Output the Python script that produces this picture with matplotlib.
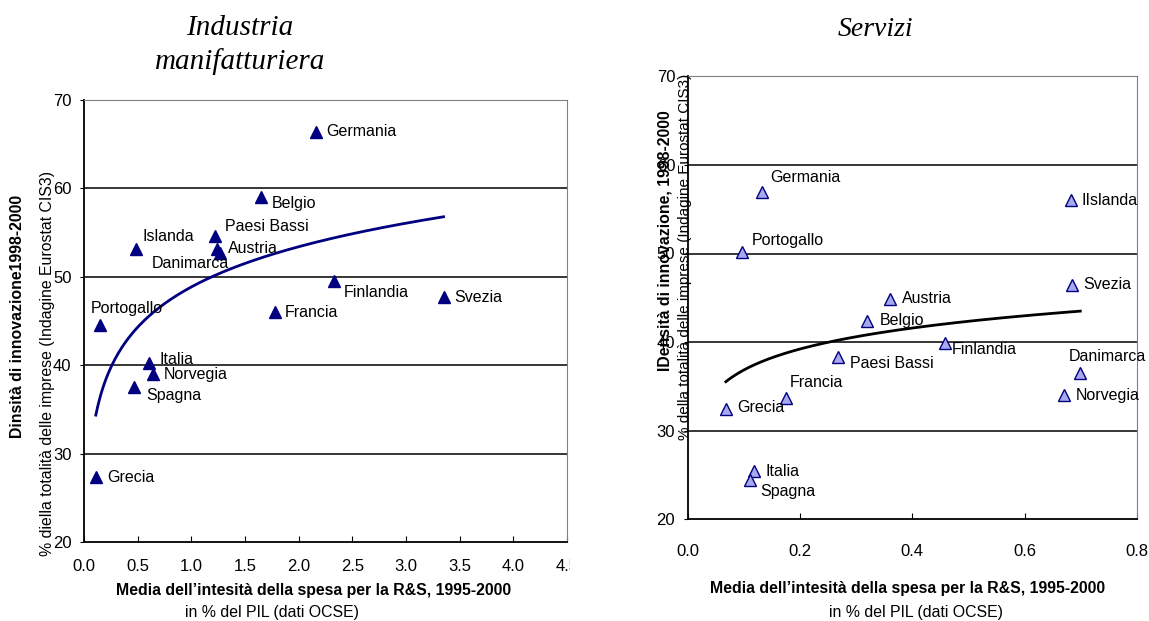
import numpy as np
import matplotlib
matplotlib.use("Agg")
import matplotlib.pyplot as plt
from matplotlib.transforms import Bbox

plt.rcParams["font.family"] = ["Liberation Sans", "DejaVu Sans"]

# Industria manifatturiera
man_paesi = ["Germania", "Belgio", "Paesi Bassi", "Austria", "Danimarca", "Islanda", "Portogallo",
             "Francia", "Finlandia", "Svezia", "Italia", "Norvegia", "Spagna", "Grecia"]
man_rs = [2.16, 1.645, 1.22, 1.24, 1.27, 0.48, 0.15, 1.78, 2.33, 3.35, 0.61, 0.64, 0.47, 0.11]
man_inn = [66.4, 59.0, 54.6, 53.2, 52.7, 53.2, 44.6, 46.0, 49.5, 47.7, 40.2, 39.0, 37.5, 27.3]
# label offsets in pixels (dx, dy, ha)
man_off = [(10, 0, "left"), (11, -6, "left"), (10, 10, "left"), (11, 0, "left"), (9, -11, "right"),
           (7, 12, "left"), (-9, 16, "left"), (10, 0, "left"), (10, -11, "left"), (11, 0, "left"),
           (10, 4, "left"), (11, 0, "left"), (12, -8, "left"), (11, 0, "left")]

# Servizi
ser_paesi = ["Germania", "Portogallo", "Austria", "Belgio", "Paesi Bassi", "Finlandia", "IIslanda",
             "Svezia", "Danimarca", "Norvegia", "Grecia", "Francia", "Italia", "Spagna"]
ser_rs = [0.132, 0.097, 0.361, 0.320, 0.268, 0.458, 0.682, 0.684, 0.699, 0.670, 0.068, 0.175, 0.118, 0.111]
ser_inn = [56.9, 50.2, 44.9, 42.4, 38.3, 39.9, 56.0, 46.5, 36.5, 34.0, 32.4, 33.7, 25.4, 24.4]
ser_off = [(8, 15, "left"), (10, 11, "left"), (12, 0, "left"), (12, 0, "left"), (12, -6, "left"),
           (7, -7, "left"), (11, 0, "left"), (11, 0, "left"), (-12, 17, "left"), (12, 0, "left"),
           (11, 2, "left"), (4, 15, "left"), (12, 0, "left"), (10, -11, "left")]

W, H = 1149, 621
fig = plt.figure(figsize=(W / 100, H / 100), dpi=100)


def px(x, y):
    return x / W, 1 - y / H


def log_trend(x, y):
    x = np.array(x)
    b, a = np.polyfit(np.log(x), np.array(y), 1)
    xs = np.linspace(x.min(), x.max(), 200)
    return xs, a + b * np.log(xs)


def style(ax):
    ax.set_ylim(20, 70)
    ax.set_yticks([20, 30, 40, 50, 60, 70])
    for v in [30, 40, 50, 60]:
        ax.axhline(v, color="black", lw=1.1, zorder=1)
    ax.spines["top"].set_color("#808080")
    ax.spines["right"].set_color("#808080")
    ax.spines["left"].set_linewidth(1.3)
    ax.spines["bottom"].set_linewidth(1.3)
    ax.tick_params(axis="x", direction="in", length=4, labelsize=12)
    ax.tick_params(axis="y", direction="out", length=3, labelsize=12, pad=6)


# --- left chart
ax1 = fig.add_axes([84 / W, 1 - 542 / H, 483 / W, 442 / H])
style(ax1)
ax1.set_xlim(0, 4.5)
ax1.set_xticks(np.arange(0, 4.51, 0.5))
ax1.set_xticklabels(["%.1f" % v for v in np.arange(0, 4.51, 0.5)])
ax1.tick_params(axis="x", pad=12)
tx, ty = log_trend(man_rs, man_inn)
ax1.plot(tx, ty, color="#000080", lw=2, zorder=2)
ax1.plot(man_rs, man_inn, "^", color="#000080", ms=8, ls="none", zorder=3)
for name, xv, yv, (dx, dy, ha) in zip(man_paesi, man_rs, man_inn, man_off):
    ax1.annotate(name, (xv, yv), xytext=(dx, dy), textcoords="offset pixels",
                 ha=ha, va="center", fontsize=11.5)
for lab in ax1.get_xticklabels():
    lab.set_clip_on(True)
    lab.set_clip_box(Bbox.from_extents(0, 0, 570, H))

# --- right chart
ax2 = fig.add_axes([687.7 / W, 1 - 519.3 / H, 449.3 / W, 443 / H])
style(ax2)
ax2.set_xlim(0, 0.8)
ax2.set_xticks([0.0, 0.2, 0.4, 0.6, 0.8])
ax2.set_xticklabels(["0.0", "0.2", "0.4", "0.6", "0.8"])
ax2.tick_params(axis="x", pad=18)
tx, ty = log_trend(ser_rs, ser_inn)
ax2.plot(tx, ty, color="black", lw=2, zorder=2)
ax2.plot(ser_rs, ser_inn, "^", mfc="#a8a8ee", mec="#000080", mew=1, ms=8, ls="none", zorder=3)
for name, xv, yv, (dx, dy, ha) in zip(ser_paesi, ser_rs, ser_inn, ser_off):
    ax2.annotate(name, (xv, yv), xytext=(dx, dy), textcoords="offset pixels",
                 ha=ha, va="center", fontsize=11.5, annotation_clip=False)

# titles
fig.text(*px(240, 28), "Industria", ha="center", va="center", fontsize=21,
         family="Liberation Serif", style="italic")
fig.text(*px(240, 62), "manifatturiera", ha="center", va="center", fontsize=21,
         family="Liberation Serif", style="italic")
fig.text(*px(875, 30), "Servizi", ha="center", va="center", fontsize=20,
         family="Liberation Serif", style="italic")

# axis titles
fs = 11.4
fig.text(*px(18, 316), "Dinsità di innovazione1998-2000", rotation=90, ha="center", va="center",
         fontsize=fs, fontweight="bold")
fig.text(*px(48, 363), "% diella totalità delle imprese (Indagine Eurostat CIS3)", rotation=90,
         ha="center", va="center", fontsize=fs)
fig.text(*px(314, 590), "Media dell’intesità della spesa per la R&S, 1995-2000", ha="center",
         va="center", fontsize=fs, fontweight="bold")
fig.text(*px(272, 613), "in % del PIL (dati OCSE)", ha="center", va="center", fontsize=fs)

fig.text(*px(665, 241), "IDensità di innovazione, 1998-2000", rotation=90, ha="center", va="center",
         fontsize=fs, fontweight="bold")
fig.text(*px(685, 257), "% della totalità delle imprese (Indagine Eurostat CIS3)", rotation=90,
         ha="center", va="center", fontsize=11)
fig.text(*px(908, 588), "Media dell’intesità della spesa per la R&S, 1995-2000", ha="center",
         va="center", fontsize=fs, fontweight="bold")
fig.text(*px(916, 612), "in % del PIL (dati OCSE)", ha="center", va="center", fontsize=fs)

fig.savefig("out.png", dpi=100)
